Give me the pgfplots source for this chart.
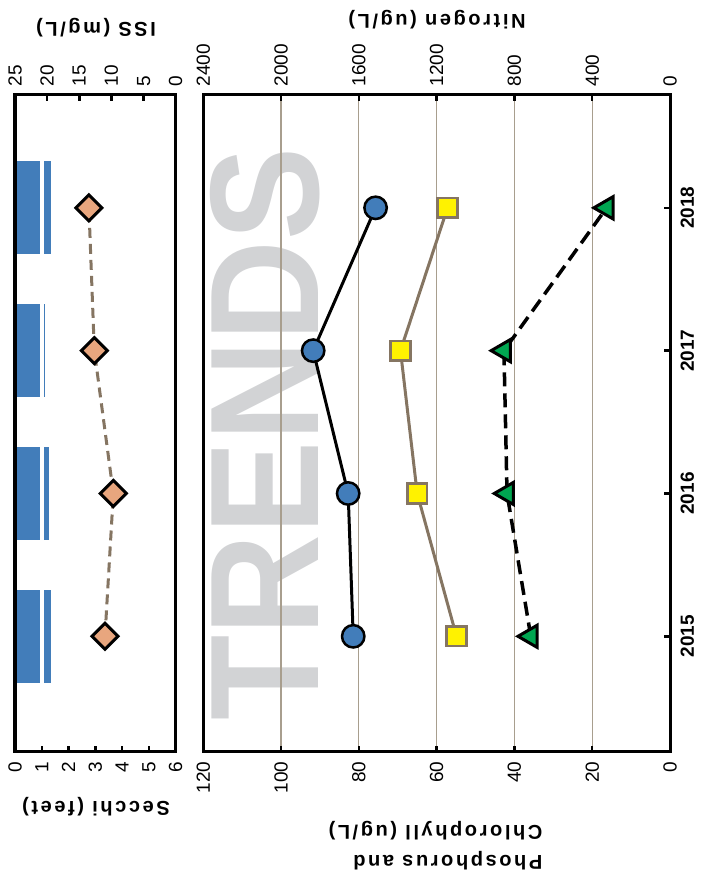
\documentclass[border=0pt]{standalone}
\usepackage{fontspec}
\setmainfont{Liberation Sans}
\newfontfamily\ttl{Liberation Sans}[LetterSpace=13]
\usepackage{pgfplots}
\pgfplotsset{compat=1.18}
\definecolor{barblue}{RGB}{66,125,186}
\definecolor{salmon}{RGB}{232,166,126}
\definecolor{taupe}{RGB}{133,117,98}
\definecolor{gridc}{RGB}{168,158,142}
\definecolor{ylw}{RGB}{255,242,0}
\definecolor{grn}{RGB}{0,166,81}
\definecolor{cblue}{RGB}{66,125,186}
\definecolor{wm}{RGB}{210,211,213}
\pgfplotsset{
 mybase/.style={
  scale only axis, anchor=south west,
  ymin=2014.19, ymax=2018.79,
  axis line style={line width=3pt, black},
  tick style={black, line width=2.5pt},
  major tick length=6pt,
  tick align=inside,
  /pgf/number format/assume math mode=true,
  /pgf/number format/1000 sep={},
  ticklabel style={font=\fontsize{19}{19}\selectfont},
 },
 rottop/.style={xtick pos=top, xticklabel pos=top, xticklabel style={rotate=90, anchor=west}},
 rotbot/.style={xtick pos=bottom, xticklabel pos=bottom, xticklabel style={rotate=90, anchor=east}},
}
\begin{document}
\begin{tikzpicture}
\path[use as bounding box] (0,0) rectangle (703pt,882pt);
\node[rotate=90, xscale=0.9, anchor=base, inner sep=0pt, text=wm, font=\fontsize{155}{155}\selectfont\bfseries] at (318pt,448pt) {TRENDS};

% main panel: phosphorus / chlorophyll
\begin{axis}[mybase, rotbot, at={(203.3pt,130pt)}, width=466.7pt, height=657pt,
 xmin=0, xmax=120, x dir=reverse, xtick={0,20,...,120},
 xmajorgrids, major grid style={gridc, line width=1.2pt},
 ytick={2015,2016,2017,2018}, ytick pos=right, yticklabel pos=right,
 yticklabel style={rotate=90, anchor=north, font=\fontsize{19}{19}\selectfont\bfseries},
 xticklabel shift=6pt, yticklabel shift=7pt]
\addplot[taupe, line width=3pt, mark=square*, mark size=9.8pt,
 mark options={fill=ylw, draw=taupe, line width=2.5pt}]
 coordinates {(54.9,2015) (65.0,2016) (69.3,2017) (57.2,2018)};
\addplot[black, line width=3.5pt, dash pattern=on 14pt off 7pt, mark=triangle*, mark size=12.8pt,
 mark options={solid, rotate=90, fill=grn, draw=black, line width=3pt}]
 coordinates {(35.8,2015) (41.9,2016) (42.7,2017) (16.3,2018)};
\end{axis}

% main panel: nitrogen
\begin{axis}[mybase, rottop, at={(203.3pt,130pt)}, width=466.7pt, height=657pt,
 xmin=0, xmax=2400, x dir=reverse, xtick={0,400,...,2400}, ytick=\empty,
 xticklabel shift=5pt]
\addplot[black, line width=3pt, mark=*, mark size=11.2pt,
 mark options={fill=cblue, draw=black, line width=2.5pt}]
 coordinates {(1629,2015) (1655,2016) (1835,2017) (1514,2018)};
\end{axis}

% secchi panel
\begin{axis}[mybase, rotbot, at={(15pt,130pt)}, width=160.7pt, height=657pt,
 xmin=0, xmax=6, xtick={0,1,...,6}, ytick=\empty, axis on top,
 xbar stacked, bar width=0.68, xticklabel shift=6pt]
\addplot[fill=barblue, draw=white, line width=4pt]
 coordinates {(0.99,2015) (0.99,2016) (0.99,2017) (0.99,2018)};
\addplot[fill=barblue, draw=white, line width=4pt]
 coordinates {(0.43,2015) (0.35,2016) (0.20,2017) (0.42,2018)};
\end{axis}

% ISS
\begin{axis}[mybase, rottop, at={(15pt,130pt)}, width=160.7pt, height=657pt,
 xmin=0, xmax=25, x dir=reverse, xtick={0,5,...,25}, ytick=\empty,
 xticklabel shift=5pt]
\addplot[taupe, line width=3pt, dash pattern=on 10pt off 6pt, mark=square*, mark size=9.2pt,
 mark options={solid, rotate=45, fill=salmon, draw=black, line width=3pt}]
 coordinates {(11.0,2015) (9.7,2016) (12.66,2017) (13.5,2018)};
\end{axis}

\node[rotate=180, font=\fontsize{20}{20}\selectfont\ttl\bfseries] at (96pt,854pt) {ISS (mg/L)};
\node[rotate=180, font=\fontsize{20}{20}\selectfont\ttl\bfseries] at (437pt,862pt) {Nitrogen (ug/L)};
\node[rotate=180, font=\fontsize{20}{20}\selectfont\ttl\bfseries] at (96pt,75pt) {Secchi (feet)};
\node[rotate=180, align=left, font=\fontsize{20}{30}\selectfont\ttl\bfseries] at (435.5pt,36pt) {Phosphorus and\\Chlorophyll (ug/L)};
\end{tikzpicture}
\end{document}
